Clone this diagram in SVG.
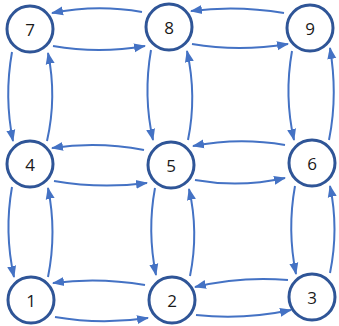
<svg xmlns="http://www.w3.org/2000/svg" width="339" height="326" viewBox="0 0 339 326">
<style>
.n circle{fill:#fff;stroke:#2F5597;stroke-width:3}
.n text{font-family:"Open Sans","Liberation Sans",sans-serif;font-size:17px;fill:#1a1a1a;text-anchor:middle;dominant-baseline:central}
.e path{fill:none;stroke:#4472C4;stroke-width:2;marker-end:url(#ah)}
</style>
<defs>
<marker id="ah" markerUnits="userSpaceOnUse" markerWidth="12" markerHeight="10" refX="11" refY="4.5" orient="auto" viewBox="0 0 12 9">
<path d="M0,0 L12,4.5 L0,9 z" fill="#4472C4"/>
</marker>
</defs>
<rect width="339" height="326" fill="#fff"/>
<g id="connectors" class="e">
<path d="M142,12 Q97,4 52,13"/>
<path d="M53,46 Q99,54 145,46"/>
<path d="M284,13 Q237,5 191,11"/>
<path d="M192,44 Q239,52 288,44"/>
<path d="M144,150 Q98,141 52,148"/>
<path d="M54,181 Q100,189 147,183"/>
<path d="M285,145 Q239,137 193,146"/>
<path d="M195,180 Q240,188 285,178"/>
<path d="M145,285 Q99,277 53,283"/>
<path d="M55,317 Q101,325 148,318"/>
<path d="M288,280 Q241,276 195,287"/>
<path d="M196,315 Q244,320 291,310"/>
<path d="M12,52 Q4,97 13,141"/>
<path d="M47,141 Q57,97 48,53"/>
<path d="M12,187 Q4,232 14,277"/>
<path d="M48,277 Q57,232 48,188"/>
<path d="M151,50 Q143,96 153,140"/>
<path d="M188,140 Q197,96 187,51"/>
<path d="M155,188 Q147,231 156,275"/>
<path d="M190,276 Q199,232 189,189"/>
<path d="M292,51 Q284,96 294,140"/>
<path d="M329,140 Q338,96 330,48"/>
<path d="M295,186 Q287,230 296,274"/>
<path d="M330,273 Q339,229 330,186"/>
</g>
<g id="node7" class="n"><circle cx="30" cy="29" r="23"/><text x="30" y="29">7</text></g>
<g id="node8" class="n"><circle cx="169" cy="27" r="23"/><text x="169" y="27">8</text></g>
<g id="node9" class="n"><circle cx="310" cy="28" r="23"/><text x="310" y="28">9</text></g>
<g id="node4" class="n"><circle cx="30" cy="164" r="23"/><text x="30" y="164">4</text></g>
<g id="node5" class="n"><circle cx="171" cy="165" r="23"/><text x="171" y="165">5</text></g>
<g id="node6" class="n"><circle cx="312" cy="163" r="23"/><text x="312" y="163">6</text></g>
<g id="node1" class="n"><circle cx="31" cy="300" r="23"/><text x="31" y="300">1</text></g>
<g id="node2" class="n"><circle cx="172" cy="300" r="23"/><text x="172" y="300">2</text></g>
<g id="node3" class="n"><circle cx="312" cy="297" r="23"/><text x="312" y="297">3</text></g>
</svg>
